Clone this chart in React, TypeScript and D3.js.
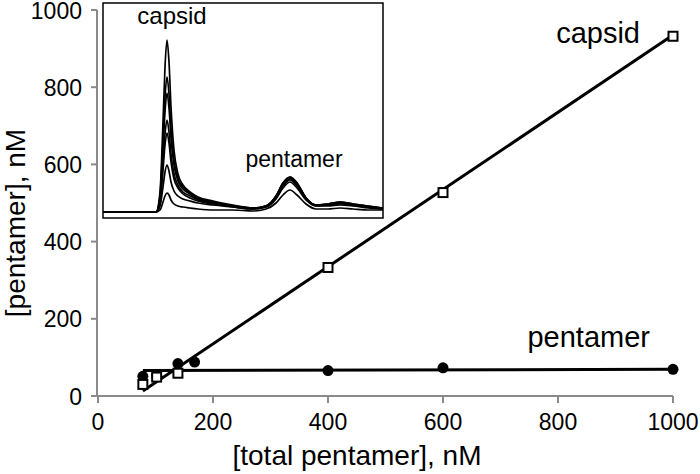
import React from "react";
import * as d3 from "d3";

// Main plot data
const capsidX = [78, 102, 139, 400, 600, 1000];
const capsidY = [30, 49, 59, 333, 527, 932];
const pentamerX = [78, 102, 139, 168, 400, 600, 1000];
const pentamerY = [51, 53, 84, 88, 66, 73, 69];
const capsidFit: [number, number][] = [[78, 13], [1000, 935]];
const pentamerFit: [number, number][] = [[78, 66], [1000, 69]];
const xTicks = [0, 200, 400, 600, 800, 1000];
const yTicks = [0, 200, 400, 600, 800, 1000];

// Inset chromatogram data (elution position vs signal)
const insetX = [0, 5.3, 5.7, 6.0, 6.2, 6.4, 6.6, 6.8, 7.1, 7.5, 8.0, 8.7, 9.5, 11, 13, 15, 16.3, 17.3, 18.0, 18.7, 19.4, 20.3, 21.3, 22.5, 23.7, 25, 26.5, 28];
const trace1 = [0, 0, 20, 90, 145, 172, 150, 105, 62, 38, 27, 20, 15, 11, 7, 4, 6, 16, 29, 35, 29, 14, 7, 8, 10, 8, 6, 4];
const trace2 = [0, 0, 16, 72, 115, 135, 118, 84, 52, 34, 25, 19, 14, 10, 6, 4, 6, 16, 29, 35, 29, 14, 7, 8, 10, 8, 6, 4];
const trace3 = [0, 0, 14, 63, 100, 119, 104, 74, 47, 31, 23, 18, 13, 10, 6, 4, 6, 15, 28, 34, 28, 14, 7, 8, 9, 7, 5, 4];
const trace4 = [0, 0, 11, 49, 78, 92, 80, 58, 38, 27, 20, 16, 12, 9, 6, 4, 6, 15, 27, 33, 27, 13, 7, 7, 9, 7, 5, 4];
const trace5 = [0, 0, 9, 42, 67, 79, 69, 50, 33, 24, 18, 14, 11, 8, 5, 3, 5, 14, 26, 32, 26, 13, 6, 7, 8, 7, 5, 3];
const trace6 = [0, 0, 6, 25, 40, 47, 41, 30, 21, 16, 13, 11, 9, 7, 5, 3, 5, 13, 24, 30, 24, 12, 6, 6, 7, 6, 4, 3];
const trace7 = [0, 0, 2, 10, 16, 19, 17, 12, 8, 6, 5, 4, 3, 2, 2, 1, 3, 9, 17, 22, 17, 8, 3, 3, 4, 3, 2, 2];
const traces = [trace1, trace2, trace3, trace4, trace5, trace6, trace7];

const FONT = "'Liberation Sans', Arial, sans-serif";
const AXIS = "#8a8a8a";

export default function App() {
  const W = 700, H = 474;
  const x = d3.scaleLinear().domain([0, 1000]).range([98, 673]);
  const y = d3.scaleLinear().domain([0, 1000]).range([396, 10]);

  const ix = d3.scaleLinear().domain([0, 28]).range([103, 383]);
  const iy = d3.scaleLinear().domain([0, 200]).range([212, 12]);

  const fitLine = d3.line<[number, number]>().x(d => x(d[0])).y(d => y(d[1]));
  const traceLine = d3.line<number>()
    .x((_, i) => ix(insetX[i]))
    .y(d => iy(d))
    .curve(d3.curveMonotoneX);

  return (
    <svg width={W} height={H} style={{ position: "absolute", left: 0, top: 0, background: "#fff" }} fontFamily={FONT}>
      <rect x={0} y={0} width={W} height={H} fill="#fff" />
      {/* axes */}
      <line x1={x(0) - 1} x2={x(0) - 1} y1={y(1000)} y2={y(0)} stroke={AXIS} strokeWidth={2} />
      <line x1={x(0) - 1} x2={x(1000)} y1={y(0)} y2={y(0)} stroke={AXIS} strokeWidth={2} />
      {yTicks.map(t => (
        <g key={"yt" + t}>
          <line x1={x(0) - 7} x2={x(0) - 1} y1={y(t)} y2={y(t)} stroke={AXIS} strokeWidth={2} />
          <text x={82} y={y(t)} dy="0.37em" textAnchor="end" fontSize={23} fill="#000">{t}</text>
        </g>
      ))}
      {xTicks.map(t => (
        <g key={"xt" + t}>
          <line x1={x(t)} x2={x(t)} y1={y(0)} y2={y(0) + 7} stroke={AXIS} strokeWidth={2} />
          <text x={x(t)} y={430} textAnchor="middle" fontSize={23} fill="#000">{t}</text>
        </g>
      ))}
      <text x={357} y={465} textAnchor="middle" fontSize={28} fill="#000">[total pentamer], nM</text>
      <text transform="translate(25,223) rotate(-90)" textAnchor="middle" fontSize={28} fill="#000">[pentamer], nM</text>

      {/* fit lines */}
      <path d={fitLine(capsidFit) || ""} stroke="#000" strokeWidth={3} fill="none" />
      <path d={fitLine(pentamerFit) || ""} stroke="#000" strokeWidth={3} fill="none" />

      {/* markers */}
      {pentamerX.map((v, i) => (
        <circle key={"p" + i} cx={x(v)} cy={y(pentamerY[i])} r={5.5} fill="#000" />
      ))}
      {capsidX.map((v, i) => (
        <rect key={"c" + i} x={x(v) - 4.5} y={y(capsidY[i]) - 4.5} width={9} height={9} fill="#fff" stroke="#000" strokeWidth={2} />
      ))}

      <text x={640} y={43} textAnchor="end" fontSize={29} fill="#000">capsid</text>
      <text x={650} y={347} textAnchor="end" fontSize={29} fill="#000">pentamer</text>

      {/* inset */}
      <rect x={103} y={3} width={280} height={215} fill="#fff" stroke="#000" strokeWidth={1.5} />
      <clipPath id="insetClip">
        <rect x={103} y={3} width={280} height={215} />
      </clipPath>
      <g clipPath="url(#insetClip)">
        {traces.map((tr, k) => (
          <path key={"tr" + k} d={traceLine(tr) || ""} stroke="#000" strokeWidth={1.7} fill="none" />
        ))}
      </g>
      <text x={172} y={24} textAnchor="middle" fontSize={24} fill="#000">capsid</text>
      <text x={294} y={167} textAnchor="middle" fontSize={23} fill="#000">pentamer</text>
    </svg>
  );
}
